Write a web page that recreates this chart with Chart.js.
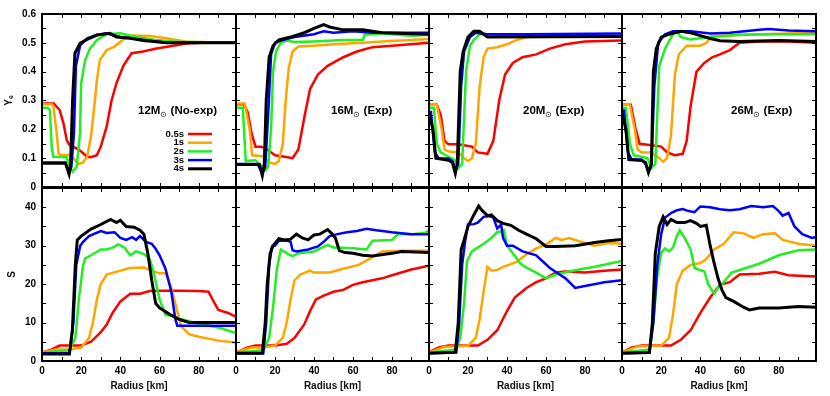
<!DOCTYPE html>
<html>
<head>
<meta charset="utf-8">
<script src="https://cdn.jsdelivr.net/npm/chart.js@4.4.1/dist/chart.umd.min.js"></script>
<style>
  html, body { margin: 0; padding: 0; background: #fff; }
  #wrap { position: relative; width: 830px; height: 396px; }
  #wrap canvas { position: absolute; left: 0; top: 0; }
</style>
</head>
<body>
<div id="wrap"></div>
<script>
// time snapshots and their colours
const timeLabels = ['0.5s', '1s', '2s', '3s', '4s'];
const lineColors = ['#ff0000', '#ffa500', '#22ee22', '#0000ff', '#000000'];

// panel titles: mass + subscript sun symbol + suffix
const panelMass = ['12M', '16M', '20M', '26M'];
const panelSuffix = [' (No-exp)', ' (Exp)', ' (Exp)', ' (Exp)'];

// Ye vs radius [km] -- 12 Msun
const ye12_05s = [[0,0.29],[6,0.29],[9,0.267],[11,0.22],[12.6,0.163],[14.3,0.143],[17.7,0.134],[20,0.123],[23,0.105],[25,0.103],[28,0.11],[30,0.14],[33,0.21],[35.5,0.30],[38,0.36],[41.5,0.42],[45.7,0.464],[51.6,0.47],[58.4,0.48],[67,0.49],[73.7,0.498],[82,0.5],[99,0.5]];
const ye12_1s = [[0,0.287],[5,0.287],[5.8,0.28],[7.5,0.186],[8.5,0.114],[10,0.111],[14.3,0.111],[16.8,0.094],[18.5,0.079],[21,0.085],[23,0.105],[25,0.175],[27,0.30],[28,0.37],[29.5,0.44],[33,0.475],[37,0.487],[41.5,0.512],[46.5,0.525],[55,0.524],[63.5,0.516],[74,0.504],[99,0.5]];
const ye12_2s = [[0,0.275],[3,0.275],[4,0.267],[5,0.134],[5.8,0.105],[12.6,0.103],[14.3,0.07],[15.6,0.053],[17.7,0.07],[19.4,0.186],[20,0.36],[22,0.44],[24.5,0.48],[28,0.51],[33,0.53],[40,0.533],[48,0.52],[58,0.51],[68.6,0.504],[99,0.5]];
const ye12_3s = [[0,0.085],[12,0.085],[13.8,0.047],[15,0.07],[16.3,0.186],[17.3,0.42],[19.4,0.49],[23,0.516],[28,0.527],[33,0.533],[40,0.52],[50,0.512],[63.5,0.5],[99,0.5]];
const ye12_4s = [[0,0.082],[12,0.082],[13.8,0.045],[14.6,0.082],[15.6,0.3],[16.8,0.464],[19.4,0.498],[23,0.512],[28,0.527],[34.6,0.533],[38,0.52],[45,0.516],[51.6,0.508],[63.5,0.5],[99,0.5]];

// entropy S vs radius -- 12 Msun
const s12_05s = [[0,2.2],[5,3],[9,4],[20,4],[25,5],[30,7.5],[33,9.5],[36,12.5],[40,15.5],[45,17.5],[50,17.5],[55,18.2],[60,18.3],[70,18.3],[80,18.2],[85,18],[87,16],[90,13.3],[95,12.5],[99,11.5]];
const s12_1s = [[0,2.2],[7,3],[14,3],[20,3.5],[24,6],[26,10],[28,16],[30,20],[33,22.5],[40,23.5],[45,24.2],[52,24.3],[57,23.3],[60,22.8],[63,22.8],[66,19],[69,13],[71,9],[75,7],[80,6.3],[90,5.3],[99,4.8]];
const s12_2s = [[0,2.2],[14,2.8],[17,6],[19,17],[21,25],[22,26.7],[25,27.5],[30,29],[33,29],[36,29.5],[39,30.3],[42,29.5],[45,27.5],[48,28.5],[52,27.8],[55,26.5],[57,23],[60,16],[63,12],[66,11.8],[70,11],[80,9.7],[90,8.7],[99,7.3]];
const s12_3s = [[0,2],[14,2],[16,10],[17.5,25],[19.5,30],[21,31],[24,32.5],[30,33.8],[33,33.3],[37,33.5],[40,32],[43,31.5],[46,32.2],[48,31.5],[50,32.5],[53,31],[56,30.5],[58,29.2],[60,27.5],[63,24],[66,18],[68,11],[69,9.2],[99,9.2]];
const s12_4s = [[0,1.8],[14,1.8],[15.5,8],[17,25],[18,31.5],[20,32.5],[25,34.3],[30,35.5],[35,36.8],[38,36],[40,36.6],[43,35],[47,34.8],[50,34],[52,33],[54,28],[56,21],[58,15],[60,13.8],[65,12.2],[70,10.8],[75,10],[99,10]];

// 16 Msun
const ye16_05s = [[0,0.287],[4,0.287],[6,0.26],[8,0.186],[10,0.14],[13,0.14],[16,0.13],[20,0.11],[25,0.105],[29,0.1],[32,0.13],[35,0.24],[38,0.34],[42,0.39],[47,0.42],[55,0.45],[62,0.47],[70,0.485],[80,0.49],[99,0.5]];
const ye16_1s = [[0,0.29],[4.5,0.29],[7,0.2],[8.3,0.11],[14,0.107],[17,0.085],[20,0.08],[22,0.09],[24,0.15],[25.5,0.3],[27,0.41],[29,0.47],[32,0.487],[40,0.49],[50,0.495],[65,0.5],[75,0.505],[90,0.51],[99,0.513]];
const ye16_2s = [[0,0.275],[3.5,0.275],[5,0.09],[10,0.093],[12,0.08],[14,0.065],[15,0.058],[16.5,0.07],[18,0.2],[19,0.4],[20.5,0.47],[23,0.5],[26,0.508],[30,0.503],[40,0.505],[55,0.51],[65,0.51],[66,0.528],[75,0.532],[90,0.525],[99,0.528]];
const ye16_3s = [[0,0.08],[11,0.08],[13.5,0.047],[15,0.07],[16.5,0.25],[18,0.46],[20,0.5],[24,0.51],[30,0.52],[40,0.53],[45,0.54],[50,0.535],[60,0.54],[70,0.535],[80,0.535],[99,0.535]];
const ye16_4s = [[0,0.078],[12,0.078],[13.5,0.04],[14.5,0.08],[15.5,0.3],[17,0.45],[19,0.49],[22,0.51],[28,0.52],[35,0.535],[40,0.55],[45,0.563],[48,0.555],[55,0.545],[65,0.545],[75,0.535],[99,0.53]];

const s16_05s = [[0,2.2],[6,3.5],[10,4],[20,4],[26,4.5],[30,6],[35,9.5],[38,13],[41,16],[45,17],[50,18],[55,18.5],[60,19.8],[65,20.5],[70,21],[75,21.5],[80,22.3],[90,23.8],[99,24.8]];
const s16_1s = [[0,2.3],[8,3.5],[14,3.5],[20,4],[24,6],[26,10],[28,16],[30,21],[33,22.5],[38,23.5],[40,23],[48,23],[55,24],[63,25],[70,27],[75,28.5],[85,28.7],[99,28.7]];
const s16_2s = [[0,2.2],[14,2.8],[17,6],[19,14],[21,24],[23,29],[26,28],[29,27.3],[32,28],[40,28.5],[47,30.2],[50,29.5],[60,29.3],[67,29],[70,31.3],[80,31.5],[83,33],[90,33],[97,33.3],[99,34]];
const s16_3s = [[0,2],[14,2],[15.5,10],[17,25],[18.5,29.8],[20,30],[22,31.3],[26,31.3],[28,31],[29,28.8],[31,28.5],[37,29],[42,29.8],[45,31],[48,32.5],[52,33],[57,33.5],[62,33.8],[67,34.4],[72,34],[80,33.5],[90,33],[99,33]];
const s16_4s = [[0,2],[13.5,2],[15,10],[16,20],[17.5,28],[19,30],[22,31.8],[25,31.5],[28,31.7],[31,33],[34,32],[37,31.5],[40,32.8],[43,33],[47,34.2],[49,33.2],[51,32],[53,28.7],[56,28.2],[60,28],[65,27.5],[70,27.3],[80,28],[85,28.5],[99,28.2]];

// 20 Msun
const ye20_05s = [[0,0.285],[4,0.285],[6,0.25],[8,0.16],[10,0.148],[15,0.148],[18,0.145],[22,0.14],[25,0.12],[30,0.115],[33,0.16],[36,0.3],[39,0.39],[43,0.43],[48,0.45],[55,0.46],[62,0.48],[70,0.495],[80,0.505],[99,0.508]];
const ye20_1s = [[0,0.285],[4,0.285],[6.5,0.2],[8,0.13],[10,0.123],[15,0.12],[18,0.1],[20,0.09],[22,0.1],[24,0.15],[26,0.35],[28,0.45],[30,0.48],[35,0.485],[40,0.495],[45,0.51],[50,0.52],[70,0.523],[99,0.525]];
const ye20_2s = [[0,0.275],[2.5,0.275],[4,0.15],[6,0.12],[10,0.105],[13,0.095],[15,0.065],[17,0.08],[19,0.4],[21,0.49],[23,0.51],[26,0.53],[30,0.53],[50,0.525],[99,0.525]];
const ye20_3s = [[0,0.26],[1,0.26],[3,0.12],[5,0.1],[10,0.099],[12,0.09],[13.5,0.06],[15,0.08],[16.5,0.35],[18,0.47],[21,0.52],[24,0.535],[30,0.53],[50,0.53],[99,0.532]];
const ye20_4s = [[0,0.258],[0.5,0.258],[2,0.2],[3.5,0.1],[10,0.093],[12,0.085],[13.5,0.047],[14.5,0.08],[16,0.4],[17.5,0.47],[20,0.52],[23,0.54],[26,0.54],[30,0.52],[99,0.522]];

const s20_05s = [[0,2.3],[5,3.5],[10,4],[25,4],[30,5.5],[35,8],[40,13],[44,16.5],[50,19],[55,20.5],[60,21.5],[65,23],[70,23.3],[80,23],[90,23.5],[99,23.8]];
const s20_1s = [[0,2.2],[8,3.7],[14,3.8],[20,4],[24,6],[26,11],[28,18],[30,24.5],[32,23.5],[35,23.7],[38,24.5],[45,25.8],[50,27.7],[55,29.3],[60,30.3],[65,32],[68,31.5],[72,32],[78,31],[85,30],[92,30.7],[99,30.5]];
const s20_2s = [[0,2.2],[14,3],[16,6],[18,15],[19.5,26],[22,28.5],[25,29.5],[28,30.5],[32,32],[35,33.5],[37,33.7],[38.5,34],[40,30],[43,28],[47,25.3],[50,24.3],[55,23],[60,21.5],[65,22.5],[75,23.6],[85,24.5],[99,26]];
const s20_3s = [[0,2],[14,2.2],[15.5,10],[17,25],[18.5,31],[20,35.5],[23,35.6],[25,36],[28,37.5],[31,37.7],[33,37.3],[35,34.5],[37,35.5],[38,32],[40,30],[43,30],[48,28.5],[55,27.5],[62,24.2],[67,22.5],[70,21.5],[75,19],[80,19.5],[90,20.5],[99,21]];
const s20_4s = [[0,2],[13.5,2.3],[15,10],[16.5,29],[18,31.5],[20,35],[23,38],[25.5,40.3],[27,39.3],[30,37.8],[32,38],[35,36.5],[38,35.8],[42,35.3],[46,34],[50,33],[55,31.8],[60,29.8],[65,29.8],[75,30],[85,30.8],[92,31.3],[99,31.6]];

// 26 Msun
const ye26_05s = [[0,0.285],[4.5,0.285],[7,0.2],[9,0.15],[15,0.145],[20,0.14],[23,0.12],[27,0.11],[31,0.115],[33,0.16],[35,0.28],[38,0.4],[42,0.43],[46,0.45],[50,0.46],[55,0.475],[60,0.5],[70,0.505],[85,0.505],[99,0.5]];
const ye26_1s = [[0,0.285],[4,0.285],[6.5,0.2],[8,0.13],[10,0.12],[15,0.12],[19,0.1],[21,0.088],[23,0.1],[25,0.18],[27,0.39],[29,0.46],[33,0.49],[40,0.49],[43,0.5],[46,0.525],[50,0.525],[70,0.53],[99,0.535]];
const ye26_2s = [[0,0.275],[2,0.275],[4,0.15],[6,0.11],[10,0.105],[13,0.1],[15,0.065],[17,0.08],[19,0.42],[22,0.48],[26,0.53],[28,0.54],[30,0.52],[35,0.512],[45,0.52],[60,0.528],[80,0.53],[99,0.53]];
const ye26_3s = [[0,0.265],[1,0.265],[3,0.12],[5,0.095],[10,0.095],[12,0.08],[13.5,0.055],[15,0.08],[16.5,0.35],[18.5,0.5],[22,0.53],[26,0.54],[35,0.54],[45,0.532],[55,0.535],[70,0.545],[75,0.548],[85,0.543],[99,0.54]];
const ye26_4s = [[0,0.255],[0.5,0.255],[2,0.2],[3.5,0.095],[10,0.092],[12,0.085],[13.5,0.05],[15,0.08],[16,0.4],[17.5,0.48],[20,0.52],[24,0.53],[30,0.54],[35,0.535],[40,0.525],[45,0.515],[50,0.507],[60,0.505],[80,0.508],[99,0.505]];

const s26_05s = [[0,2.2],[5,3.5],[10,4],[25,4],[30,5.5],[35,8],[40,12.5],[45,16.5],[50,19.8],[55,20.5],[60,22.5],[70,22.7],[78,23.2],[85,22.3],[99,22]];
const s26_1s = [[0,2.2],[8,3.8],[20,4],[24,6],[26,12],[28,20],[31,23.5],[35,25],[40,25.5],[43,26.5],[47,29],[52,30.5],[57,33.5],[62,33.2],[67,32],[72,33],[78,33.2],[82,31.5],[90,30.5],[99,30]];
const s26_2s = [[0,2.2],[14,3],[16,10],[18,22],[20,28.2],[22,29.3],[24,28.5],[26,29.5],[28,32.5],[29.5,34],[32,32],[35,29],[37,24.2],[39,23.8],[42,23.3],[44,20],[47,17.5],[49,19],[51,20],[53,21.2],[56,23],[62,24],[70,25.3],[80,27.5],[90,28.8],[99,29]];
const s26_3s = [[0,2],[14,2.2],[16,10],[18,25],[20,33],[22,37.3],[25,38.5],[28,39.2],[31,39.5],[34,39],[37,38.7],[40,40.2],[45,40],[50,39.5],[55,39.2],[60,39.5],[66,40.3],[72,40],[77,40.3],[80,39],[82,37.8],[85,38.5],[88,35],[92,33],[97,32],[99,32.3]];
const s26_4s = [[0,2],[14,2.2],[15.5,10],[17,28],[19,35],[21,37.5],[23,35.5],[25,36.8],[28,36],[32,36],[35,36.5],[38,35.8],[40,35],[43,35.3],[45,30],[47,25.5],[49,21.5],[51,18.5],[53,16.5],[57,15.5],[62,14],[65,13.3],[70,13.8],[80,13.8],[90,14.2],[99,14]];

const yePanels = [
  [ye12_05s, ye12_1s, ye12_2s, ye12_3s, ye12_4s],
  [ye16_05s, ye16_1s, ye16_2s, ye16_3s, ye16_4s],
  [ye20_05s, ye20_1s, ye20_2s, ye20_3s, ye20_4s],
  [ye26_05s, ye26_1s, ye26_2s, ye26_3s, ye26_4s]
];
const sPanels = [
  [s12_05s, s12_1s, s12_2s, s12_3s, s12_4s],
  [s16_05s, s16_1s, s16_2s, s16_3s, s16_4s],
  [s20_05s, s20_1s, s20_2s, s20_3s, s20_4s],
  [s26_05s, s26_1s, s26_2s, s26_3s, s26_4s]
];

// axis ranges / tick steps
const radiusMax = 99;
const yeMax = 0.6, sMax = 45;

// page layout (pixels)
const W = 830, H = 396;
const colLeft = [42, 236, 429, 622];
const colRight = [236, 429, 622, 816];
const rowTop = [14, 188];
const rowBottom = [187, 361];
const labelOffset = [96, 95, 94, 109];

const FONT = '"Liberation Sans", Arial, Helvetica, sans-serif';
Chart.defaults.font.family = FONT;
Chart.defaults.color = '#000';

// frame + inward ticks on all four sides
const framePlugin = {
  id: 'frame',
  afterDatasetsDraw(chart) {
    const { ctx, chartArea: a, scales: { x, y } } = chart;
    const row = chart.options.plugins.frame.row;
    ctx.save();
    ctx.strokeStyle = '#000';
    ctx.lineWidth = 1;
    ctx.beginPath();
    for (let k = 1; k * 10 < radiusMax; k++) {
      const px = Math.round(x.getPixelForValue(k * 10)) + 0.5;
      ctx.moveTo(px, a.bottom); ctx.lineTo(px, a.bottom - 4);
      ctx.moveTo(px, a.top); ctx.lineTo(px, a.top + 4);
    }
    const n = row === 0 ? 12 : 9;
    const step = row === 0 ? 0.05 : 5;
    for (let k = 1; k < n; k++) {
      const py = Math.round(y.getPixelForValue(k * step)) + 0.5;
      ctx.moveTo(a.left, py); ctx.lineTo(a.left + 4, py);
      ctx.moveTo(a.right, py); ctx.lineTo(a.right - 4, py);
    }
    ctx.stroke();
    ctx.lineWidth = 2;
    ctx.strokeRect(a.left, a.top, a.right - a.left, a.bottom - a.top);
    ctx.restore();
  }
};

// mass label and (first panel) the line key
const labelPlugin = {
  id: 'panelLabel',
  afterDraw(chart) {
    const o = chart.options.plugins.panelLabel;
    if (!o.show) return;
    const { ctx, chartArea: a } = chart;
    ctx.save();
    ctx.fillStyle = '#000';
    ctx.textBaseline = 'middle';
    let x = a.left + labelOffset[o.col];
    const y = a.top + 97;
    ctx.font = 'bold 11.5px ' + FONT;
    ctx.fillText(panelMass[o.col], x, y);
    x += ctx.measureText(panelMass[o.col]).width;
    ctx.font = '8px ' + FONT;
    ctx.fillText('\u2299', x, y + 4);
    x += ctx.measureText('\u2299').width;
    ctx.font = 'bold 11.5px ' + FONT;
    ctx.fillText(panelSuffix[o.col], x, y);

    if (o.col === 0) {
      ctx.font = 'bold 9.5px ' + FONT;
      ctx.textAlign = 'right';
      chart.data.datasets.forEach((ds, i) => {
        const ly = a.top + 120 + i * 8.7;
        ctx.fillStyle = '#000';
        ctx.fillText(ds.label, a.left + 142, ly);
        ctx.strokeStyle = ds.borderColor;
        ctx.lineWidth = ds.borderWidth;
        ctx.beginPath();
        ctx.moveTo(a.left + 146, ly);
        ctx.lineTo(a.left + 170, ly);
        ctx.stroke();
      });
    }
    ctx.restore();
  }
};

function makePanel(row, col, series) {
  const canvas = document.createElement('canvas');
  canvas.width = W;
  canvas.height = H;
  document.getElementById('wrap').appendChild(canvas);

  const yW = col === 0 ? 42 : 0;
  const xH = row === 1 ? 35 : 0;

  new Chart(canvas, {
    type: 'line',
    data: {
      datasets: series.map((pts, i) => ({
        label: timeLabels[i],
        data: pts,
        borderColor: lineColors[i],
        borderWidth: i === 4 ? 3 : 2.5,
        pointRadius: 0,
        tension: 0,
        fill: false,
        order: 4 - i
      }))
    },
    options: {
      responsive: false,
      animation: false,
      devicePixelRatio: 1,
      layout: {
        padding: {
          left: colLeft[col] - yW,
          right: W - colRight[col],
          top: rowTop[row],
          bottom: H - rowBottom[row] - xH
        }
      },
      plugins: {
        legend: { display: false },
        tooltip: { enabled: false },
        frame: { row },
        panelLabel: { show: row === 0, col }
      },
      scales: {
        x: {
          type: 'linear',
          min: 0,
          max: radiusMax,
          grid: { display: false, drawTicks: false },
          border: { display: false },
          ticks: {
            display: row === 1,
            stepSize: 20,
            includeBounds: false,
            maxRotation: 0,
            padding: 4,
            color: '#000',
            font: { size: 10, weight: 'bold' }
          },
          title: {
            display: row === 1,
            text: 'Radius [km]',
            color: '#111',
            font: { size: 10, weight: 'bold' },
            padding: { top: 0, bottom: 4 }
          },
          afterFit: s => { s.height = xH; }
        },
        y: {
          min: 0,
          max: row === 0 ? yeMax : sMax,
          grid: { display: false, drawTicks: false },
          border: { display: false },
          ticks: {
            display: col === 0,
            stepSize: row === 0 ? 0.1 : 10,
            includeBounds: false,
            padding: 6,
            color: '#000',
            font: { size: 10, weight: 'bold' }
          },
          title: {
            display: col === 0,
            text: row === 0 ? 'Y\u2091' : 'S',
            color: '#111',
            font: { size: 10, weight: 'bold' },
            padding: { top: row === 0 ? 3 : 6, bottom: 0 }
          },
          afterFit: s => { s.width = yW; }
        }
      }
    },
    plugins: [framePlugin, labelPlugin]
  });
}

for (let c = 0; c < 4; c++) {
  makePanel(0, c, yePanels[c]);
  makePanel(1, c, sPanels[c]);
}
</script>
</body>
</html>
